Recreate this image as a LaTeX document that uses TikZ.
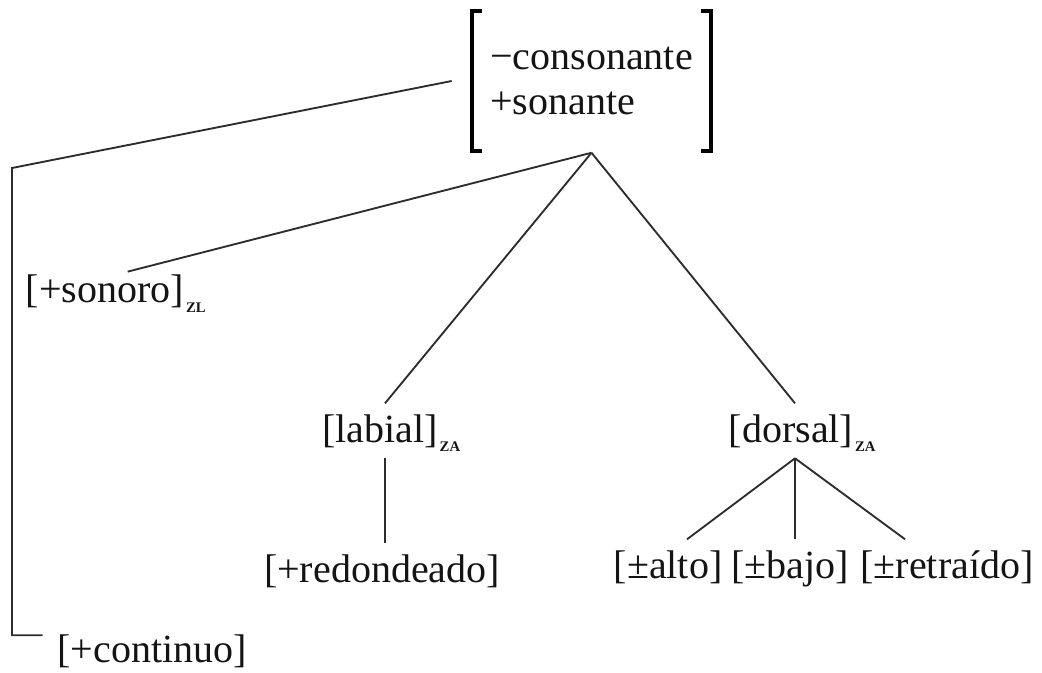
\documentclass[tikz,border=0pt]{standalone}
\usepackage{fontspec}
\setmainfont{Liberation Serif}
\usepackage{tikz}
\usetikzlibrary{calc,positioning}
\definecolor{inkgray}{RGB}{20,20,20}
\definecolor{linegray}{RGB}{45,45,45}
\newcommand{\featsize}{\fontsize{30}{34}\selectfont}
\newcommand{\zsub}[1]{\rlap{\smash{\raisebox{-7pt}{\kern1.5pt\fontsize{11}{11}\selectfont\bfseries #1}}}}

\begin{document}
\begin{tikzpicture}[x=0.75pt,y=-0.75pt,
  rasgo/.style={font=\featsize,text=inkgray,inner xsep=1pt,inner ysep=8pt},
  rama/.style={draw=linegray,line width=1.4pt},
  corchete/.style={draw=black,line width=2.8pt}]
\useasboundingbox (0,0) rectangle (1042,673);
% ---------- matriz superior ----------
\node[rasgo,align=left,minimum width=179.25pt,minimum height=104.25pt] (feat) at (591.5,81) {−consonante\\+sonante};
\draw[corchete] ([xshift=7.5pt]feat.north west) -- (feat.north west) -- (feat.south west) -- ([xshift=7.5pt]feat.south west);
\draw[corchete] ([xshift=-7.5pt]feat.north east) -- (feat.north east) -- (feat.south east) -- ([xshift=-7.5pt]feat.south east);
\coordinate (apex) at ([yshift=-1.5pt]feat.south);
\coordinate (bend) at (12,168);
% ---------- rasgos ----------
\node[rasgo,anchor=base] (sonoro) at (105,303) {[+sonoro]\zsub{ZL}};
\node[rasgo,anchor=base] (labial) at (380,442) {[labial]\zsub{ZA}};
\node[rasgo,anchor=base] (dorsal) at (791,442) {[dorsal]\zsub{ZA}};
\node[rasgo,anchor=base] (redond) at (382,582) {[+redondeado]};
\node[rasgo,anchor=base] (alto) at (668,578) {[±alto]};
\node[rasgo,anchor=base] (bajo) at (790,578) {[±bajo]};
\node[rasgo,anchor=base] (retr) at (947,578) {[±retraído]};
\node[rasgo,anchor=base west] (continuo) at (56,662) {[+continuo]};
\coordinate (dapex) at ([xshift=3pt]dorsal.south);
% ---------- ramas ----------
\draw[rama] ([xshift=-15pt]feat.west) -- (bend) |- ([xshift=-10pt,yshift=-9pt]continuo.north west);
\draw[rama] (apex) -- ([xshift=17pt,yshift=-5.5pt]sonoro.north);
\draw[rama] (apex) -- ([xshift=3.75pt]labial.north);
\draw[rama] (apex) -- ([xshift=3pt]dorsal.north);
\draw[rama] ([xshift=3.75pt]labial.south) -- ([xshift=2.25pt]redond.north);
\draw[rama] (dapex) -- ([xshift=14.25pt]alto.north);
\draw[rama] (dapex) -- ([xshift=3.75pt]bajo.north);
\draw[rama] (dapex) -- ([xshift=-31.5pt]retr.north);
\end{tikzpicture}
\end{document}
